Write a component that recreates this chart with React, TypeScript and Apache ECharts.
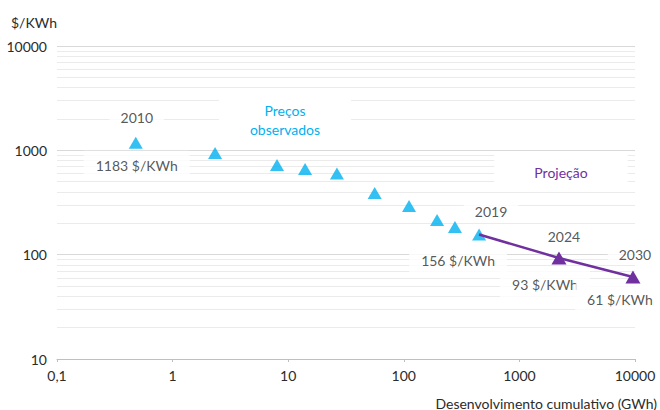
import React, { useEffect, useRef } from 'react';
import * as echarts from 'echarts';

// Observed prices (cumulative GWh, $/KWh)
const OBS_X = [0.48, 2.33, 8.0, 14.0, 26.4, 56, 111, 194, 277, 448];
const OBS_Y = [1183, 944, 724, 663, 601, 391, 293, 215, 184, 156];

// Projection
const PROJ_X = [448, 2200, 9600];
const PROJ_Y = [156, 93, 61];

// Annotated points
const LABEL_YEARS = ['2010', '2019', '2024', '2030'];
const LABEL_PRICES = ['1183 $/KWh', '156 $/KWh', '93 $/KWh', '61 $/KWh'];
const LABEL_PTS_X = [OBS_X[0], OBS_X[9], PROJ_X[1], PROJ_X[2]];
const LABEL_PTS_Y = [OBS_Y[0], OBS_Y[9], PROJ_Y[1], PROJ_Y[2]];

const X_TICK_LABELS = ['0,1', '1', '10', '100', '1000', '10000'];
const MINOR_MULTIPLES = [2, 3, 4, 5, 6, 7, 8, 9];
const DECADES = [10, 100, 1000];

const BLUE = '#00B0F0';
const PURPLE = '#7030A0';
const TEXT = '#2b2b2b';
const FONT = 'Lato, "Open Sans", sans-serif';

const YEAR_OFFSETS = [[1, -25], [12, -23], [5, -21], [2, -23]];
const PRICE_OFFSETS = [[1, 23], [-21, 26], [-14, 27], [-13, 22]];

export default function App() {
  const ref = useRef<HTMLDivElement>(null);

  useEffect(() => {
    if (!ref.current) return;
    const chart = echarts.init(ref.current, undefined, { renderer: 'svg' });

    const minorLines: any[] = [];
    DECADES.forEach((d) => MINOR_MULTIPLES.forEach((m) => minorLines.push({ yAxis: d * m })));

    const yearData = LABEL_YEARS.map((t, i) => ({
      value: [LABEL_PTS_X[i], LABEL_PTS_Y[i]],
      label: {
        show: true,
        formatter: t,
        position: 'inside',
        offset: YEAR_OFFSETS[i],
        backgroundColor: '#fff',
        padding: [4, 11],
      },
    }));
    const priceData = LABEL_PRICES.map((t, i) => ({
      value: [LABEL_PTS_X[i], LABEL_PTS_Y[i]],
      label: {
        show: true,
        formatter: t,
        position: 'inside',
        offset: PRICE_OFFSETS[i],
        backgroundColor: '#fff',
        padding: [8, 12],
      },
    }));

    const labelStyle = { color: TEXT, fontSize: 14, fontFamily: FONT };

    chart.setOption({
      animation: false,
      backgroundColor: '#fff',
      grid: { left: 57, right: 25, top: 46, bottom: 51, containLabel: false },
      xAxis: {
        type: 'log',
        logBase: 10,
        min: 0.1,
        max: 10000,
        axisLine: { lineStyle: { color: '#BFBFBF', width: 1 } },
        axisTick: { show: true, length: 3, lineStyle: { color: '#BFBFBF' } },
        splitLine: { show: false },
        axisLabel: {
          color: TEXT,
          fontSize: 14,
          fontFamily: FONT,
          margin: 9,
          formatter: (v: number) => X_TICK_LABELS[Math.round(Math.log10(v)) + 1] ?? '',
        },
      },
      yAxis: {
        type: 'log',
        logBase: 10,
        min: 10,
        max: 10000,
        axisLine: { show: false },
        axisTick: { show: false },
        splitLine: { show: true, lineStyle: { color: '#D9D9D9', width: 1 } },
        axisLabel: {
          color: TEXT,
          fontSize: 14,
          fontFamily: FONT,
          margin: 10,
          formatter: (v: number) => String(Math.round(v)),
        },
      },
      graphic: [
        {
          type: 'text',
          x: 11,
          y: 22,
          style: { text: '$/KWh', fill: TEXT, fontSize: 14, fontFamily: FONT, verticalAlign: 'middle', align: 'left' },
        },
        {
          type: 'text',
          x: 657,
          y: 403,
          style: {
            text: 'Desenvolvimento cumulativo (GWh)',
            fill: TEXT,
            fontSize: 14,
            fontFamily: FONT,
            align: 'right',
            verticalAlign: 'middle',
          },
        },
        {
          type: 'text',
          x: 285,
          y: 120,
          z: 50,
          style: {
            text: 'Preços\nobservados',
            fill: BLUE,
            fontSize: 14,
            fontFamily: FONT,
            lineHeight: 19,
            align: 'center',
            verticalAlign: 'middle',
            backgroundColor: '#fff',
            padding: [5, 31],
          },
        },
        {
          type: 'text',
          x: 561,
          y: 172,
          z: 50,
          style: {
            text: 'Projeção',
            fill: PURPLE,
            fontSize: 14,
            fontFamily: FONT,
            align: 'center',
            verticalAlign: 'middle',
            backgroundColor: '#fff',
            padding: [10, 40],
          },
        },
      ],
      series: [
        {
          type: 'line',
          data: [],
          silent: true,
          z: 1,
          markLine: {
            silent: true,
            z: 1,
            symbol: ['none', 'none'],
            label: { show: false },
            lineStyle: { color: '#EBEBEB', type: 'solid', width: 1 },
            data: minorLines,
          },
        },
        {
          type: 'scatter',
          symbolSize: 0,
          silent: true,
          z: 3,
          label: labelStyle,
          data: yearData,
        },
        {
          type: 'scatter',
          symbolSize: 0,
          silent: true,
          z: 3,
          label: labelStyle,
          data: priceData,
        },
        {
          type: 'scatter',
          name: 'Preços observados',
          symbol: 'triangle',
          symbolSize: [14, 12],
          itemStyle: { color: BLUE },
          z: 5,
          data: OBS_X.map((x, i) => [x, OBS_Y[i]]),
        },
        {
          type: 'line',
          name: 'Projeção',
          symbol: 'triangle',
          symbolSize: [15, 13],
          showSymbol: true,
          lineStyle: { color: PURPLE, width: 2.5 },
          itemStyle: { color: PURPLE },
          z: 6,
          data: PROJ_X.map((x, i) => ({
            value: [x, PROJ_Y[i]],
            symbol: i === 0 ? 'none' : 'triangle',
          })),
        },
      ],
    });

    return () => chart.dispose();
  }, []);

  return <div ref={ref} style={{ width: 660, height: 410, position: 'absolute', left: 0, top: 0 }} />;
}
